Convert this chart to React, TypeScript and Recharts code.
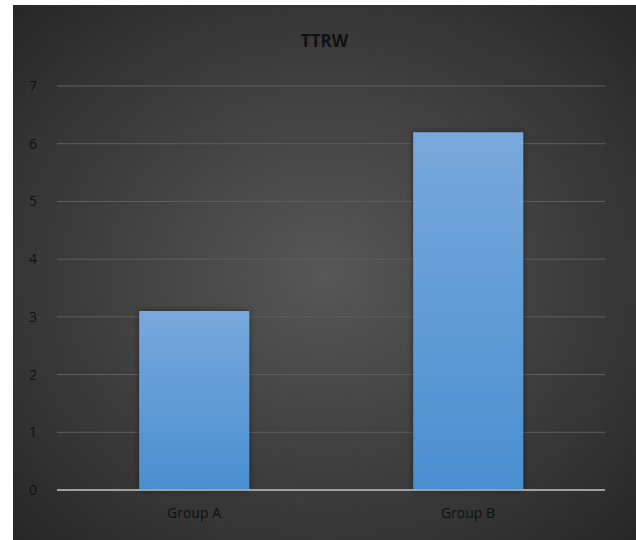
import React from 'react';
import { BarChart, Bar, XAxis, YAxis, CartesianGrid } from 'recharts';

const categories = ['Group A', 'Group B'];
const values = [3.1, 6.2];
const yTicks = [0, 1, 2, 3, 4, 5, 6, 7];

const data = categories.map((name, i) => ({ name, value: values[i] }));

const FONT = '"Open Sans", "Liberation Sans", sans-serif';

export default function App() {
    return (
        <div style={{ position: 'fixed', left: 0, top: 0, width: 636, height: 540, background: '#fff' }}>
            <div
                style={{
                    position: 'absolute',
                    left: 13,
                    top: 5,
                    width: 623,
                    height: 535,
                    background: 'radial-gradient(ellipse at 50% 50%, #575757 0%, #3d3d3d 55%, #272727 100%)',
                    fontFamily: FONT,
                }}
            >
                <div
                    style={{
                        position: 'absolute',
                        top: 24,
                        left: 0,
                        width: '100%',
                        textAlign: 'center',
                        fontWeight: 700,
                        fontSize: 17,
                        color: '#111',
                    }}
                >
                    TTRW
                </div>
                <BarChart
                    width={623}
                    height={535}
                    data={data}
                    margin={{ top: 81, right: 31, left: 0, bottom: 20 }}
                    barCategoryGap="30%"
                >
                    <defs>
                        <linearGradient id="barFill" x1="0" y1="0" x2="0" y2="1">
                            <stop offset="0%" stopColor="#78a9dc" />
                            <stop offset="100%" stopColor="#4a8ed0" />
                        </linearGradient>
                        <filter id="barShadow" x="-20%" y="-20%" width="140%" height="140%">
                            <feDropShadow dx="0" dy="0" stdDeviation="3" floodColor="#000" floodOpacity="0.45" />
                        </filter>
                    </defs>
                    <CartesianGrid vertical={false} stroke="#5e5e5e" strokeWidth={1} />
                    <XAxis
                        dataKey="name"
                        height={30}
                        axisLine={{ stroke: '#a0a0a0', strokeWidth: 2 }}
                        tickLine={false}
                        tick={{ fill: '#111', fontSize: 14, fontFamily: FONT }}
                        tickMargin={12}
                    />
                    <YAxis
                        domain={[0, 7]}
                        ticks={yTicks}
                        width={44}
                        axisLine={false}
                        tickLine={false}
                        tick={{ fill: '#111', fontSize: 14, fontFamily: FONT }}
                        tickMargin={14}
                    />
                    <Bar dataKey="value" fill="url(#barFill)" filter="url(#barShadow)" isAnimationActive={false} />
                </BarChart>
            </div>
        </div>
    );
}
